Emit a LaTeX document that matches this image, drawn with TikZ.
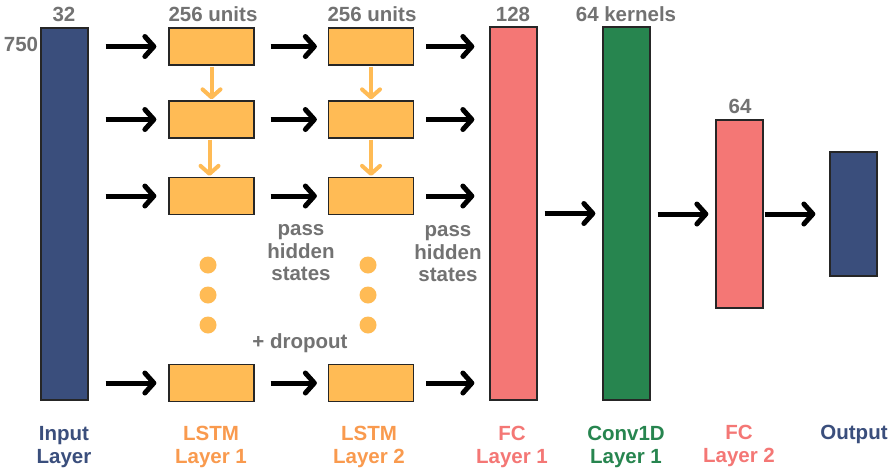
\documentclass[tikz,border=0pt]{standalone}
\usepackage{fontspec}
\setmainfont{Liberation Sans}
\usetikzlibrary{arrows.meta}
\definecolor{navy}{HTML}{3A4E7C}
\definecolor{lstm}{HTML}{FFBB55}
\definecolor{lstmtxt}{HTML}{F99A4E}
\definecolor{salmon}{HTML}{F47775}
\definecolor{cgreen}{HTML}{27854F}
\definecolor{gtxt}{HTML}{727272}
\begin{document}
\begin{tikzpicture}[x=1pt,y=-1pt,
  bar/.style={draw=black!85, line width=1.3pt, inner sep=0pt, minimum width=47pt},
  lbox/.style={draw=black!85, line width=1.3pt, fill=lstm, inner sep=0pt, minimum width=85pt, minimum height=37pt},
  arr/.style={line width=5pt, -{Straight Barb[length=9pt,width=20pt,line cap=round,line join=round]}},
  oarr/.style={draw=lstm, line width=4pt, -{Straight Barb[length=8pt,width=18pt,line cap=round,line join=round]}},
  dot/.style={circle, fill=lstm, inner sep=0pt, minimum size=17pt},
  gt/.style={text=gtxt, font=\bfseries\fontsize{20.5}{22.5}\selectfont, inner sep=0pt, align=center},
  lt/.style={font=\bfseries\fontsize{20.5}{23}\selectfont, inner sep=0pt, align=center}
]
\useasboundingbox (0,0) rectangle (890,469);
\fill[white] (0,0) rectangle (890,469);
% bars
\node[bar, fill=navy, minimum height=372pt] (in) at (64.5,214) {};
\node[bar, fill=salmon, minimum height=373pt] (fc1) at (513.5,213.5) {};
\node[bar, fill=cgreen, minimum height=373pt] (cv) at (626.5,213.5) {};
\node[bar, fill=salmon, minimum height=188pt] (fc2) at (739.5,214) {};
\node[bar, fill=navy, minimum height=124pt] (out) at (853.5,214) {};
% lstm boxes
\foreach \n/\y in {a/46.5,b/119.5,c/196,d/383}{
  \node[lbox] (l1\n) at (211.5,\y) {};
  \node[lbox] (l2\n) at (371,\y) {};
}
% black arrows
\foreach \n in {a,b,c,d}{
  \draw[arr, shorten <=17pt, shorten >=12pt] (in.east |- l1\n.west) -- (l1\n.west);
  \draw[arr, shorten <=16pt, shorten >=11pt] (l1\n.east) -- (l2\n.west);
  \draw[arr, shorten <=12pt, shorten >=15pt] (l2\n.east) -- (fc1.west |- l2\n.east);
}
\draw[arr, shorten <=7pt, shorten >=7pt] (fc1.east |- cv.west) -- (cv.west);
\draw[arr, shorten <=7pt, shorten >=7pt] (cv.east |- fc2.west) -- (fc2.west);
\draw[arr, shorten <=1pt, shorten >=14pt] (fc2.east) -- (out.west);
% orange arrows
\draw[oarr, shorten <=1pt, shorten >=1pt] (l1a.south) -- (l1b.north);
\draw[oarr, shorten <=1pt, shorten >=1pt] ([xshift=-2pt]l1b.south) -- ([xshift=-2pt]l1c.north);
\draw[oarr, shorten <=1pt, shorten >=1pt] (l2a.south) -- (l2b.north);
\draw[oarr, shorten <=1pt, shorten >=1pt] (l2b.south) -- (l2c.north);
% dots
\foreach \y [count=\i] in {265,295,325}{
  \node[dot] (d1\i) at (208,\y) {};
  \node[dot] (d2\i) at (368,\y) {};
}
% top labels
\node[gt] (t32) at (64,14) {32};
\node[gt] (t750) at (21,44) {750};
\node[gt] (tu1) at (213,14) {256 units};
\node[gt] (tu2) at (372,14) {256 units};
\node[gt] (t128) at (513,14) {128};
\node[gt] (tk) at (626,14) {64 kernels};
\node[gt] (t64) at (740,106) {64};
\node[gt] (ph1) at (301,253) {pass\\hidden\\states};
\node[gt] (ph2) at (448,254) {pass\\hidden\\states};
\node[gt] (dr) at (300,343) {+ dropout};
% bottom labels
\node[lt, text=navy] (bi) at (64,447) {Input\\Layer};
\node[lt, text=lstmtxt] (bl1) at (211,447) {LSTM\\Layer 1};
\node[lt, text=lstmtxt] (bl2) at (369,447) {LSTM\\Layer 2};
\node[lt, text=salmon] (bf1) at (512,447) {FC\\Layer 1};
\node[lt, text=cgreen] (bc) at (626,447) {Conv1D\\Layer 1};
\node[lt, text=salmon] (bf2) at (739,446) {FC\\Layer 2};
\node[lt, text=navy] (bo) at (854,434) {Output};
\end{tikzpicture}
\end{document}
